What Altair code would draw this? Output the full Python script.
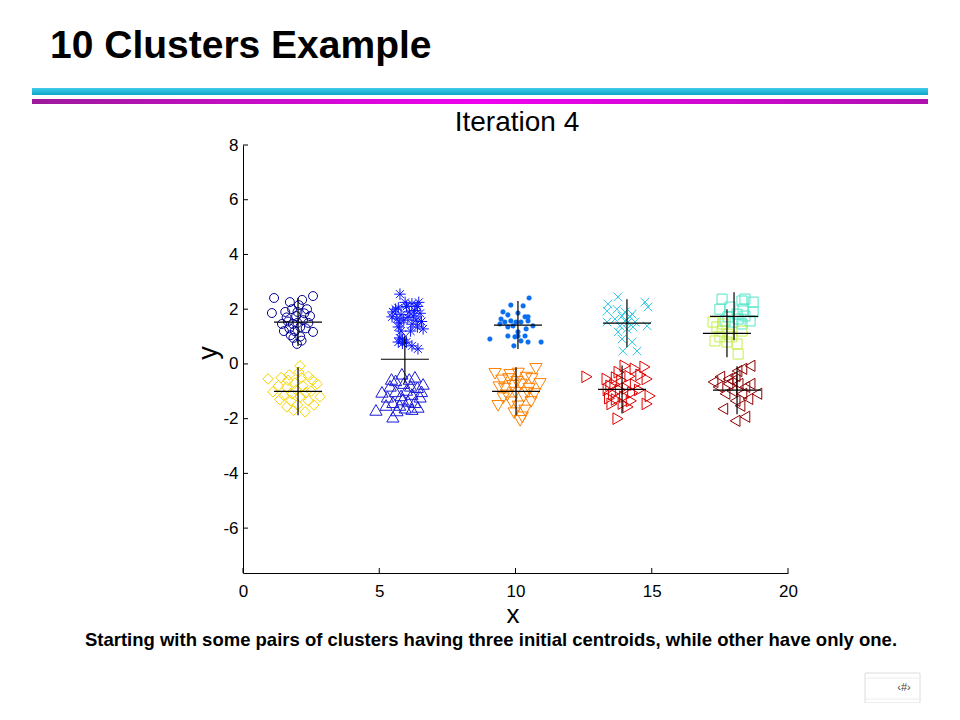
import altair as alt
import pandas as pd

# ---------------- data ----------------
CIRCLES = [[1.14, 2.41], [2.57, 2.48], [1.06, 1.86], [2.17, 2.34], [1.72, 2.26], [2.57, 1.17], [1.98, 0.73],
           [2.46, 1.75], [1.43, 1.46], [1.83, 1.46], [1.60, 1.70], [2.00, 1.90], [2.20, 1.60], [1.90, 1.20],
           [2.30, 1.30], [1.70, 1.30], [2.10, 1.00], [1.50, 1.20], [2.35, 2.00], [1.80, 2.00], [2.00, 1.50],
           [1.65, 1.55], [2.25, 1.85], [1.95, 1.75], [2.10, 1.35], [1.75, 1.05], [2.40, 1.50], [1.55, 1.90],
           [2.05, 2.15], [1.85, 0.95], [2.15, 0.85]]
DIAMONDS = [[0.92, -0.55], [2.09, -0.07], [2.72, -0.73], [1.61, -1.57], [2.28, -1.75], [2.83, -1.20], [1.10, -1.02],
            [1.40, -0.50], [1.70, -0.40], [2.40, -0.45], [1.30, -0.80], [1.60, -0.85], [1.90, -0.70], [2.20, -0.80],
            [2.50, -1.00], [1.50, -1.15], [1.80, -1.10], [2.10, -1.20], [2.40, -1.35], [1.75, -1.35], [2.00, -1.50],
            [2.60, -1.50], [1.35, -1.30], [2.30, -1.05], [1.95, -0.95], [1.65, -0.60], [2.15, -0.50], [2.55, -0.60],
            [1.85, -1.70], [2.05, -0.30]]
ASTERISKS = [[5.76, 2.55], [6.61, 1.28], [6.42, 0.55], [6.20, 0.66], [5.50, 1.90], [5.47, 1.72], [5.70, 2.05],
             [5.80, 1.80], [5.75, 1.50], [5.80, 1.20], [5.75, 0.95], [5.85, 0.75], [5.70, 1.35], [5.90, 1.60],
             [5.65, 1.65], [6.00, 2.10], [6.20, 2.20], [6.40, 2.10], [6.50, 1.85], [6.35, 1.60], [6.20, 1.45],
             [6.10, 1.90], [6.30, 1.95], [6.45, 2.25], [6.05, 1.70], [5.95, 2.25], [6.55, 1.55], [5.60, 2.00],
             [6.25, 1.75], [5.85, 0.90], [6.00, 0.80], [5.70, 0.80], [6.40, 1.35], [6.15, 1.20]]
TRI_UP = [[4.88, -1.68], [5.50, -1.93], [5.10, -1.02], [5.83, -0.36], [6.31, -0.47], [6.61, -0.73], [6.42, -1.57],
          [5.40, -0.80], [5.60, -0.60], [5.90, -0.70], [6.10, -0.55], [6.40, -0.85], [5.30, -1.20], [5.60, -1.00],
          [5.80, -1.15], [6.00, -0.95], [6.20, -1.10], [6.50, -1.20], [5.50, -1.40], [5.75, -1.50], [6.05, -1.35],
          [6.30, -1.40], [5.95, -1.60], [6.20, -1.65], [5.65, -1.70], [5.25, -1.50], [6.55, -1.00], [5.45, -0.55],
          [6.15, -0.80], [5.85, -1.30]]
DOTS = [[10.50, 2.41], [9.83, 2.15], [10.28, 2.12], [9.54, 1.90], [10.09, 1.86], [9.72, 1.79], [9.47, 1.64],
        [10.35, 1.72], [9.43, 1.46], [9.91, 1.39], [10.20, 1.53], [10.46, 1.57], [10.64, 1.39], [9.72, 1.35],
        [10.39, 1.28], [10.09, 1.17], [9.06, 0.91], [9.72, 1.02], [9.98, 0.99], [10.35, 1.02], [9.94, 0.66],
        [10.46, 0.80], [10.94, 0.80], [10.20, 0.84], [10.09, 1.02], [9.61, 1.53], [9.83, 1.57], [10.02, 1.53],
        [10.46, 1.72]]
TRI_DOWN = [[10.75, -0.18], [10.90, -0.73], [9.36, -1.53], [10.17, -2.08], [9.25, -0.36], [10.57, -1.39],
            [9.50, -0.60], [9.80, -0.40], [10.10, -0.35], [10.40, -0.50], [9.60, -0.90], [9.90, -0.80],
            [10.20, -0.75], [10.50, -0.90], [9.70, -1.15], [10.00, -1.05], [10.30, -1.20], [9.85, -1.40],
            [10.10, -1.55], [10.35, -1.70], [9.95, -1.80], [10.25, -1.95], [9.55, -1.25], [10.60, -0.55],
            [9.75, -0.55], [10.05, -0.65], [10.45, -1.05], [9.40, -0.85], [10.70, -1.10]]
CROSSES = [[13.39, 2.19], [13.76, 2.45], [14.75, 2.26], [14.86, 2.08], [13.36, 1.93], [13.36, 1.53], [13.65, 1.64],
           [14.02, 1.90], [14.20, 1.72], [13.83, 1.39], [14.31, 1.35], [14.83, 1.39], [14.39, 1.53], [13.91, 0.91],
           [13.94, 0.47], [14.46, 0.47], [14.28, 0.80], [14.02, 1.57], [14.13, 1.53], [13.76, 1.17], [14.09, 1.28],
           [13.91, 1.75], [13.72, 2.00], [14.28, 1.82]]
TRI_RIGHT = [[12.62, -0.47], [14.75, -0.11], [14.83, -0.55], [14.94, -1.17], [14.83, -1.46], [13.76, -2.00],
             [14.13, -1.57], [13.54, -1.46], [13.36, -0.55], [14.39, -0.18], [14.02, -0.07], [13.50, -0.80],
             [13.70, -0.50], [13.90, -0.60], [14.20, -0.45], [14.40, -0.75], [13.60, -1.10], [13.85, -0.95],
             [14.10, -0.90], [14.30, -1.05], [13.40, -0.95], [13.70, -1.30], [14.00, -1.20], [14.25, -1.35],
             [13.80, -0.30], [14.55, -0.95], [13.45, -1.25], [14.60, -0.40], [13.95, -1.45], [13.65, -0.75]]
SQUARES_TEAL = [[17.58, 2.37], [18.31, 2.30], [18.72, 2.26], [18.42, 2.37], [18.72, 1.90], [17.50, 2.00],
                [17.80, 1.72], [18.13, 1.82], [18.42, 1.75], [18.61, 1.57], [17.98, 1.53], [18.31, 1.46],
                [17.69, 1.57], [18.17, 1.64], [17.87, 2.08], [18.35, 2.00]]
SQUARES_LIME = [[17.25, 1.53], [17.39, 1.35], [17.50, 0.99], [17.32, 0.84], [17.80, 1.09], [18.13, 0.73],
                [18.17, 0.36], [17.94, 0.99], [17.61, 1.46], [17.58, 1.20], [18.31, 1.20], [17.76, 0.80]]
TRI_LEFT = [[18.61, -0.07], [18.31, -0.18], [17.25, -0.66], [17.50, -0.47], [18.86, -1.09], [18.53, -1.28],
            [17.61, -1.64], [18.42, -1.93], [18.06, -2.08], [17.80, -0.55], [18.06, -0.44], [18.17, -0.73],
            [17.94, -0.99], [18.31, -1.09], [17.69, -1.09], [18.06, -1.35], [17.80, -0.73], [18.42, -0.84],
            [18.13, -0.26], [17.43, -0.84], [18.24, -1.53], [17.94, -0.62], [18.61, -0.73]]
CENTROIDS = [[2.02, 1.53], [2.02, -1.00], [5.94, 0.17], [10.09, 1.42], [10.02, -1.00], [14.09, 1.49],
             [13.91, -0.93], [18.02, 1.74], [17.76, 1.12], [18.13, -0.96]]

X_TICKS = [0, 5, 10, 15, 20]
Y_TICKS = [-6, -4, -2, 0, 2, 4, 6, 8]

TITLE = "10 Clusters Example"
PLOT_TITLE = "Iteration 4"
CAPTION = "Starting with some pairs of clusters having three initial centroids, while other have only one."

# ---------------- styling ----------------
W, H = 545, 428
XS = alt.Scale(domain=[0, 20], nice=False, zero=False)
YS = alt.Scale(domain=[-7.64, 8], nice=False, zero=False)
FONT = "Liberation Sans"
LABEL_EXPR = "'' + datum.value"

XAX = alt.Axis(title=None, values=X_TICKS, ticks=False, grid=False, domainColor="black", domainWidth=1,
               labelFont=FONT, labelFontSize=17, labelColor="black", labelPadding=10, labelFlush=False,
               labelExpr=LABEL_EXPR)
YAX = alt.Axis(title=None, values=Y_TICKS, ticks=False, grid=False, domainColor="black", domainWidth=1,
               labelFont=FONT, labelFontSize=17, labelColor="black", labelPadding=5, labelFlush=False,
               labelExpr=LABEL_EXPR)


def X(field):
    return alt.X(field, type="quantitative", scale=XS, axis=XAX)


def Y(field):
    return alt.Y(field, type="quantitative", scale=YS, axis=YAX)


ASTER_PATH = "M-1,0L1,0M0,-1L0,1M-0.7,-0.7L0.7,0.7M-0.7,0.7L0.7,-0.7"
XMARK_PATH = "M-1,-1L1,1M-1,1L1,-1"
PLUS_PATH = "M-1,0L1,0M0,-1L0,1"

clusters = [
    (CIRCLES, "circle", "#000090", 80, False),
    (DIAMONDS, "diamond", "#f6d400", 110, False),
    (ASTERISKS, ASTER_PATH, "#0a14ff", 130, False),
    (TRI_UP, "triangle-up", "#1a1ad8", 150, False),
    (DOTS, "circle", "#0a6ef0", 22, True),
    (TRI_DOWN, "triangle-down", "#ff8000", 150, False),
    (CROSSES, XMARK_PATH, "#30c8e4", 75, False),
    (TRI_RIGHT, "triangle-right", "#e00000", 135, False),
    (SQUARES_TEAL, "square", "#50e6c8", 100, False),
    (SQUARES_LIME, "square", "#c4f048", 100, False),
    (TRI_LEFT, "triangle-left", "#8a0000", 125, False),
]

layers = []

# inward ticks
layers.append(alt.Chart(pd.DataFrame({"t": X_TICKS})).mark_rule(color="black", strokeWidth=1).encode(
    x=X("t"), y=alt.value(H), y2=alt.value(H - 5)))
layers.append(alt.Chart(pd.DataFrame({"t": Y_TICKS})).mark_rule(color="black", strokeWidth=1).encode(
    y=Y("t"), x=alt.value(0), x2=alt.value(5)))

for pts, shape, color, size, filled in clusters:
    df = pd.DataFrame(pts, columns=["x", "y"])
    if filled:
        mk = alt.Chart(df).mark_point(shape=shape, size=size, filled=True, fill=color, stroke=color,
                                      strokeWidth=0.5, opacity=1)
    else:
        mk = alt.Chart(df).mark_point(shape=shape, size=size, filled=False, stroke=color,
                                      strokeWidth=1, opacity=1)
    layers.append(mk.encode(x=X("x"), y=Y("y")))

cent_df = pd.DataFrame(CENTROIDS, columns=["x", "y"])
layers.append(alt.Chart(cent_df).mark_point(shape=PLUS_PATH, size=2304, filled=False, stroke="black",
                                            strokeWidth=1.2, opacity=1).encode(x=X("x"), y=Y("y")))

# ---------------- decorations / texts (pixel positions relative to plot origin) ----------------
one = pd.DataFrame({"d": [0]})


def txt(text, x, y, size, weight="normal", align="center", baseline="alphabetic", angle=0,
        color="black", font=FONT):
    kw = dict(text=text, fontSize=size, fontWeight=weight, align=align, baseline=baseline,
              color=color, font=font)
    if angle:
        kw["angle"] = angle
    return alt.Chart(one).mark_text(**kw).encode(x=alt.value(x), y=alt.value(y))


cyan_grad = alt.Gradient(gradient="linear", x1=0, y1=0, x2=0, y2=1,
                         stops=[alt.GradientStop(offset=0, color="#40cbe8"),
                                alt.GradientStop(offset=1, color="#0ea6cc")])
mag_grad = alt.Gradient(gradient="linear", x1=0, y1=0, x2=1, y2=0,
                        stops=[alt.GradientStop(offset=0, color="#9c1a9c"),
                               alt.GradientStop(offset=0.5, color="#f000f0"),
                               alt.GradientStop(offset=1, color="#b010b0")])
layers.append(alt.Chart(one).mark_rect(fill=cyan_grad).encode(
    x=alt.value(-211), x2=alt.value(685), y=alt.value(-57), y2=alt.value(-50)))
layers.append(alt.Chart(one).mark_rect(fill=mag_grad).encode(
    x=alt.value(-211), x2=alt.value(685), y=alt.value(-46), y2=alt.value(-41)))

layers.append(txt(TITLE, -193, -87, 39, weight="bold", align="left"))
layers.append(txt(PLOT_TITLE, 274, -14, 28))
layers.append(txt("y", -34, 208, 27, baseline="middle", angle=270))
layers.append(txt("x", 270, 470, 26, baseline="middle"))
layers.append(txt(CAPTION, 248, 501, 18.5, weight="bold"))

# slide-number box
layers.append(alt.Chart(one).mark_rect(fill="white", stroke="#dcdcdc", strokeWidth=1).encode(
    x=alt.value(622), x2=alt.value(677), y=alt.value(528), y2=alt.value(558)))
layers.append(alt.Chart(one).mark_rule(color="#ececec").encode(
    x=alt.value(622), x2=alt.value(677), y=alt.value(533)))
layers.append(alt.Chart(one).mark_rule(color="#ececec").encode(
    x=alt.value(622), x2=alt.value(677), y=alt.value(554)))
layers.append(txt("\u2039#\u203a", 661, 543, 11, baseline="middle", color="#444444"))

chart = alt.layer(*layers).properties(
    width=W, height=H,
    autosize=alt.AutoSizeParams(type="none"),
    padding={"left": 235, "top": 137, "right": 150, "bottom": 130},
    background="white",
).configure_view(stroke=None)

chart.save("out.html", embed_options={"renderer": "svg", "actions": False})
